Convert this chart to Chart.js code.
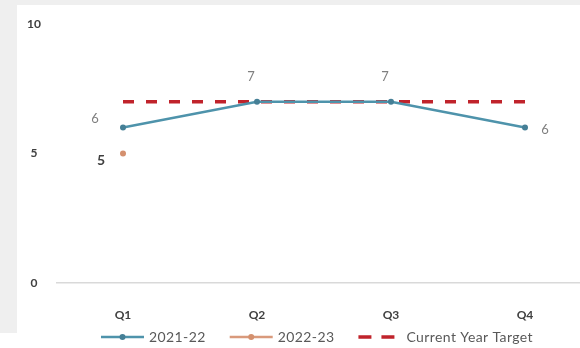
<!DOCTYPE html>
<html>
<head>
<meta charset="utf-8">
<script src="https://cdn.jsdelivr.net/npm/chart.js@4"></script>
<style>
  html, body { margin: 0; padding: 0; background: #ffffff; overflow: hidden; }
  #frame { position: absolute; left: 0; top: 0; width: 580px; height: 333px; background: #efefef; }
  #wrap { position: absolute; left: 17px; top: 5px; width: 600px; height: 343px; background: #ffffff; }
</style>
</head>
<body>
<div id="frame"></div>
<div id="wrap"><canvas id="chart"></canvas></div>
<script>
// quarterly scores vs target
const quarters = ["Q1", "Q2", "Q3", "Q4"];
const fy2122 = [6, 7, 7, 6];
const fy2223 = [5, null, null, null];
const target = [7, 7, 7, 7];
const yTicks = [0, 5, 10];

const FONT = "Lato";

// label placement next to each point, [dx, dy] in px
const OFFSETS = {
  left: [-28, -9],
  leftLow: [-22, 7],
  above: [-6, -25],
  right: [20, 2]
};

// draws the little value labels next to the points (no datalabels plugin available)
const valueLabels = {
  id: "valueLabels",
  afterDatasetsDraw(chart) {
    const ctx = chart.ctx;
    chart.data.datasets.forEach(function(ds, i) {
      if (!ds.labelPos) return;
      const meta = chart.getDatasetMeta(i);
      meta.data.forEach(function(pt, j) {
        const v = ds.data[j];
        if (v === null || v === undefined) return;
        const off = OFFSETS[ds.labelPos[j]];
        ctx.save();
        ctx.font = ds.labelFont;
        ctx.fillStyle = ds.labelColor;
        ctx.textAlign = "center";
        ctx.textBaseline = "middle";
        ctx.fillText(String(v), pt.x + off[0], pt.y + off[1]);
        ctx.restore();
      });
    });
  }
};

// Excel style legend: line sample with a marker in the middle
const lineLegend = {
  id: "lineLegend",
  afterDraw(chart) {
    const ctx = chart.ctx;
    const sample = 43, gap = 5, spacing = 24;
    const y = 332;
    ctx.save();
    ctx.font = "14px " + FONT;
    ctx.letterSpacing = "0.4px";
    const items = chart.data.datasets.map(function(ds) {
      return { ds: ds, w: sample + gap + ctx.measureText(ds.label).width };
    });
    let total = spacing * (items.length - 1);
    items.forEach(function(it) { total += it.w; });
    let x = chart.width / 2 - total / 2;
    items.forEach(function(it) {
      const ds = it.ds;
      ctx.strokeStyle = ds.borderColor;
      ctx.lineWidth = ds.borderWidth;
      ctx.setLineDash(ds.borderDash ? [13, 10] : []);
      ctx.beginPath();
      ctx.moveTo(x, y);
      ctx.lineTo(x + sample, y);
      ctx.stroke();
      ctx.setLineDash([]);
      if (ds.pointRadius > 0) {
        ctx.fillStyle = ds.pointBackgroundColor;
        ctx.beginPath();
        ctx.arc(x + sample / 2, y, ds.pointRadius, 0, Math.PI * 2);
        ctx.fill();
      }
      ctx.fillStyle = "#595959";
      ctx.textBaseline = "middle";
      ctx.textAlign = "left";
      ctx.fillText(ds.label, x + sample + gap, y);
      x += it.w + spacing;
    });
    ctx.restore();
  }
};

const ctx = document.getElementById("chart").getContext("2d");

new Chart(ctx, {
  type: "line",
  data: {
    labels: quarters,
    datasets: [
      {
        label: "2021-22",
        data: fy2122,
        borderColor: "#4e93ab",
        borderWidth: 2.5,
        pointRadius: 3,
        pointBackgroundColor: "#457f96",
        pointBorderWidth: 0,
        labelPos: ["left", "above", "above", "right"],
        labelColor: "#7f7f7f",
        labelFont: "13px " + FONT,
        order: 1
      },
      {
        label: "2022-23",
        data: fy2223,
        borderColor: "#d99a7c",
        borderWidth: 2.5,
        pointRadius: 3,
        pointBackgroundColor: "#d4906e",
        pointBorderWidth: 0,
        labelPos: ["leftLow", "leftLow", "leftLow", "leftLow"],
        labelColor: "#404040",
        labelFont: "bold 14px " + FONT,
        order: 2
      },
      {
        label: "Current Year Target",
        data: target,
        borderColor: "#c0232b",
        borderWidth: 3.5,
        borderDash: [11, 12],
        pointRadius: 0,
        order: 3
      }
    ]
  },
  options: {
    responsive: true,
    maintainAspectRatio: false,
    animation: false,
    layout: { padding: { top: 19, right: 25, left: 0, bottom: 23 } },
    plugins: {
      legend: { display: false },
      tooltip: { enabled: false }
    },
    scales: {
      x: {
        offset: true,
        grid: { display: false },
        border: { display: false },
        ticks: {
          color: "#404040",
          padding: 17,
          font: { family: FONT, size: 12, weight: "bold" }
        },
        afterFit: function(scale) { scale.height = 42; }
      },
      y: {
        min: 0,
        max: 10,
        afterBuildTicks: function(scale) {
          scale.ticks = yTicks.map(function(v) { return { value: v }; });
        },
        border: { display: false },
        grid: {
          drawTicks: false,
          color: function(c) { return c.tick && c.tick.value === 0 ? "#d9d9d9" : "rgba(0,0,0,0)"; },
          lineWidth: 1.5
        },
        ticks: {
          color: "#404040",
          padding: 15,
          crossAlign: "center",
          font: { family: FONT, size: 12, weight: "bold" }
        },
        // fixed axis width; tick padding should not push the plot down
        afterFit: function(scale) {
          scale.width = 39;
          scale.paddingTop = 0;
          scale.paddingBottom = 0;
        }
      }
    }
  },
  plugins: [valueLabels, lineLegend]
});
</script>
</body>
</html>
